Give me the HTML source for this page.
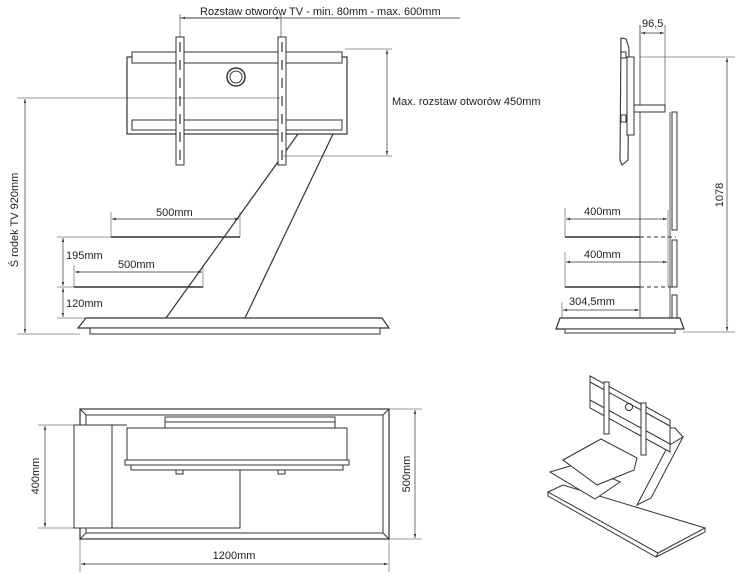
<!DOCTYPE html>
<html><head><meta charset="utf-8"><style>
html,body{margin:0;padding:0;background:#fff;width:750px;height:580px;overflow:hidden}
svg{display:block}
text{font-family:"Liberation Sans",sans-serif;font-size:11px;fill:#222}
</style></head><body>
<svg width="750" height="580" viewBox="0 0 750 580" xmlns="http://www.w3.org/2000/svg">
<defs>
<marker id="a" viewBox="0 0 10 10" refX="10" refY="5" markerWidth="6" markerHeight="6" orient="auto-start-reverse"><path d="M0,2 L10,5 L0,8 z" fill="#333"/></marker>
</defs>
<g stroke="#333" stroke-width="1" fill="none">
<!-- FRONT VIEW -->
<line x1="180" y1="18" x2="460" y2="18" stroke-width="0.7"/>
<line x1="181" y1="18" x2="280" y2="18" stroke-width="0.7" marker-start="url(#a)" marker-end="url(#a)"/>
<line x1="180" y1="14" x2="180" y2="37" stroke-width="0.6"/>
<line x1="281" y1="14" x2="281" y2="37" stroke-width="0.6"/>
<rect x="127" y="57" width="220" height="77" fill="#fff" stroke-width="1.2"/>
<rect x="132" y="52" width="210" height="11" fill="#fff"/>
<rect x="132" y="120" width="210" height="10" fill="#fff"/>
<circle cx="236" cy="77" r="9" stroke-width="1.5"/>
<circle cx="236" cy="77" r="6"/>
<line x1="298" y1="134" x2="166" y2="318" stroke-width="1.2"/>
<line x1="333" y1="134" x2="245" y2="318" stroke-width="1.2"/>
<rect x="176" y="37" width="8" height="128" fill="#fff"/>
<rect x="278" y="37" width="8" height="128" fill="#fff"/>
<g stroke-width="1.2">
<line x1="180" y1="42" x2="180" y2="52"/><line x1="180" y1="60" x2="180" y2="70"/><line x1="180" y1="78" x2="180" y2="88"/><line x1="180" y1="96" x2="180" y2="106"/><line x1="180" y1="114" x2="180" y2="124"/><line x1="180" y1="132" x2="180" y2="142"/><line x1="180" y1="150" x2="180" y2="160"/>
<line x1="282" y1="42" x2="282" y2="52"/><line x1="282" y1="60" x2="282" y2="70"/><line x1="282" y1="78" x2="282" y2="88"/><line x1="282" y1="96" x2="282" y2="106"/><line x1="282" y1="114" x2="282" y2="124"/><line x1="282" y1="132" x2="282" y2="142"/><line x1="282" y1="150" x2="282" y2="160"/>
</g>
<line x1="17" y1="98" x2="280" y2="98" stroke-width="0.6"/>
<line x1="345" y1="49" x2="392" y2="49" stroke-width="0.6"/>
<line x1="283" y1="156" x2="392" y2="156" stroke-width="0.6"/>
<line x1="387" y1="50" x2="387" y2="155" stroke-width="0.7" marker-start="url(#a)" marker-end="url(#a)"/>
<line x1="111" y1="237" x2="240" y2="237" stroke-width="1.5"/>
<line x1="112" y1="219" x2="239" y2="219" stroke-width="0.7" marker-start="url(#a)" marker-end="url(#a)"/>
<line x1="111" y1="212" x2="111" y2="237" stroke-width="0.5"/>
<line x1="240" y1="212" x2="240" y2="237" stroke-width="0.5"/>
<line x1="74" y1="287" x2="203" y2="287" stroke-width="1.5"/>
<line x1="75" y1="272" x2="202" y2="272" stroke-width="0.7" marker-start="url(#a)" marker-end="url(#a)"/>
<line x1="74" y1="265" x2="74" y2="287" stroke-width="0.5"/>
<line x1="203" y1="265" x2="203" y2="287" stroke-width="0.5"/>
<line x1="57" y1="237" x2="111" y2="237" stroke-width="0.5"/>
<line x1="57" y1="287" x2="74" y2="287" stroke-width="0.5"/>
<line x1="57" y1="318" x2="86" y2="318" stroke-width="0.5"/>
<line x1="63" y1="238" x2="63" y2="286" stroke-width="0.7" marker-start="url(#a)" marker-end="url(#a)"/>
<line x1="63" y1="288" x2="63" y2="317" stroke-width="0.7" marker-start="url(#a)" marker-end="url(#a)"/>
<line x1="25" y1="99" x2="25" y2="333" stroke-width="0.7" marker-start="url(#a)" marker-end="url(#a)"/>
<line x1="17" y1="334" x2="80" y2="334" stroke-width="0.5"/>
<polygon points="86,318 382,318 389,328 78,328" fill="#fff" stroke-width="1.2"/>
<rect x="90" y="328" width="290" height="6" fill="#fff"/>
<!-- SIDE VIEW -->
<line x1="640" y1="25" x2="640" y2="318" stroke-width="0.8"/>
<line x1="665" y1="25" x2="665" y2="105" stroke-width="0.6"/>
<line x1="641" y1="33" x2="664" y2="33" stroke-width="0.7" marker-start="url(#a)" marker-end="url(#a)"/>
<polygon points="621,38 626,39 629,48 628,160 622,165 620,160" fill="#fff" stroke-width="1.1"/>
<rect x="627" y="57" width="7" height="78" fill="#fff"/>
<rect x="621" y="52" width="5" height="6" fill="#fff"/>
<rect x="621" y="115" width="5" height="7" fill="#fff"/>
<rect x="634" y="105" width="31" height="7" fill="#fff"/>
<line x1="670" y1="112" x2="670" y2="318" stroke-width="0.8"/>
<rect x="672" y="112" width="5" height="118" fill="#fff"/>
<rect x="672" y="240" width="5" height="47" fill="#fff"/>
<rect x="672" y="295" width="5" height="23" fill="#fff"/>
<line x1="565" y1="237" x2="640" y2="237" stroke-width="1.5"/>
<line x1="640" y1="237" x2="676" y2="237" stroke-dasharray="4,3"/>
<line x1="565" y1="287" x2="640" y2="287" stroke-width="1.5"/>
<line x1="640" y1="287" x2="676" y2="287" stroke-dasharray="4,3"/>
<line x1="566" y1="219" x2="667" y2="219" stroke-width="0.7" marker-start="url(#a)" marker-end="url(#a)"/>
<line x1="566" y1="262" x2="667" y2="262" stroke-width="0.7" marker-start="url(#a)" marker-end="url(#a)"/>
<line x1="563" y1="310" x2="639" y2="310" stroke-width="0.7" marker-start="url(#a)" marker-end="url(#a)"/>
<line x1="565" y1="208" x2="565" y2="237" stroke-width="0.5"/>
<line x1="565" y1="252" x2="565" y2="287" stroke-width="0.5"/>
<line x1="562" y1="302" x2="562" y2="318" stroke-width="0.5"/>
<line x1="668" y1="210" x2="668" y2="287" stroke-width="0.5"/>
<polygon points="560,318 680,318 684,329 556,329" fill="#fff" stroke-width="1.2"/>
<rect x="565" y="329" width="110" height="4" fill="#fff"/>
<line x1="640" y1="57" x2="735" y2="57" stroke-width="0.5"/>
<line x1="683" y1="332" x2="735" y2="332" stroke-width="0.5"/>
<line x1="727" y1="58" x2="727" y2="331" stroke-width="0.7" marker-start="url(#a)" marker-end="url(#a)"/>
<!-- TOP VIEW -->
<rect x="80" y="409" width="309" height="130" stroke-width="1.2"/>
<rect x="86" y="415" width="297" height="118"/>
<line x1="80" y1="409" x2="86" y2="415"/><line x1="389" y1="409" x2="383" y2="415"/><line x1="80" y1="539" x2="86" y2="533"/><line x1="389" y1="539" x2="383" y2="533"/>
<rect x="165" y="417" width="170" height="5" fill="#fff"/>
<rect x="165" y="422" width="170" height="6" fill="#fff"/>
<rect x="74" y="425" width="38" height="103" fill="#fff"/>
<polyline points="112,425 112,528 240,528 240,470" fill="none"/>
<line x1="112" y1="425" x2="127" y2="425"/>
<rect x="127" y="428" width="220" height="32" fill="#fff"/>
<rect x="125" y="460" width="224" height="5" fill="#fff"/>
<rect x="131" y="465" width="212" height="5" fill="#fff"/>
<rect x="176" y="470" width="7" height="4"/><rect x="278" y="470" width="7" height="4"/>
<line x1="38" y1="425" x2="74" y2="425" stroke-width="0.5"/>
<line x1="38" y1="528" x2="74" y2="528" stroke-width="0.5"/>
<line x1="45" y1="426" x2="45" y2="527" stroke-width="0.7" marker-start="url(#a)" marker-end="url(#a)"/>
<line x1="389" y1="409" x2="422" y2="409" stroke-width="0.5"/>
<line x1="389" y1="539" x2="422" y2="539" stroke-width="0.5"/>
<line x1="415" y1="410" x2="415" y2="538" stroke-width="0.7" marker-start="url(#a)" marker-end="url(#a)"/>
<line x1="80" y1="539" x2="80" y2="572" stroke-width="0.5"/>
<line x1="389" y1="539" x2="389" y2="572" stroke-width="0.5"/>
<line x1="81" y1="564" x2="388" y2="564" stroke-width="0.7" marker-start="url(#a)" marker-end="url(#a)"/>
<!-- ISO VIEW -->
<polygon points="548,492 563,485 705,528 658,553" fill="#fff"/>
<polyline points="548,492 548,496 656,557 658,553" />
<polyline points="656,557 705,532 705,528"/>
<polygon points="637,505 668,446 683,437 651,498" fill="#fff"/>
<polygon points="550,472 580,463 620,482 595,499" fill="#fff"/>
<polygon points="563,460 601,439 637,458 634,470 597,485" fill="#fff"/>
<polygon points="590,376 670,420 670,452 590,408" fill="#fff"/>
<line x1="590" y1="382" x2="670" y2="426"/>
<line x1="590" y1="400" x2="670" y2="444"/>
<rect x="604" y="382" width="5" height="52" fill="#fff"/>
<rect x="641" y="403" width="5" height="52" fill="#fff"/>
<circle cx="629" cy="407" r="3.5"/>
<polyline points="670,428 675,428 683,437"/>
</g>
<g>
<text x="200" y="15">Rozstaw otworów TV - min. 80mm - max. 600mm</text>
<text x="392" y="105">Max. rozstaw otworów 450mm</text>
<text x="156" y="216">500mm</text>
<text x="118" y="268">500mm</text>
<text x="66" y="259">195mm</text>
<text x="66" y="307">120mm</text>
<text transform="translate(18,220) rotate(-90)" text-anchor="middle">Ś rodek TV 920mm</text>
<text x="642" y="27">96,5</text>
<text x="584" y="215">400mm</text>
<text x="584" y="258">400mm</text>
<text x="569" y="305">304,5mm</text>
<text transform="translate(723,195) rotate(-90)" text-anchor="middle">1078</text>
<text transform="translate(39,476) rotate(-90)" text-anchor="middle">400mm</text>
<text transform="translate(410,474) rotate(-90)" text-anchor="middle">500mm</text>
<text x="234" y="559" text-anchor="middle">1200mm</text>
</g>
</svg>
</body></html>
